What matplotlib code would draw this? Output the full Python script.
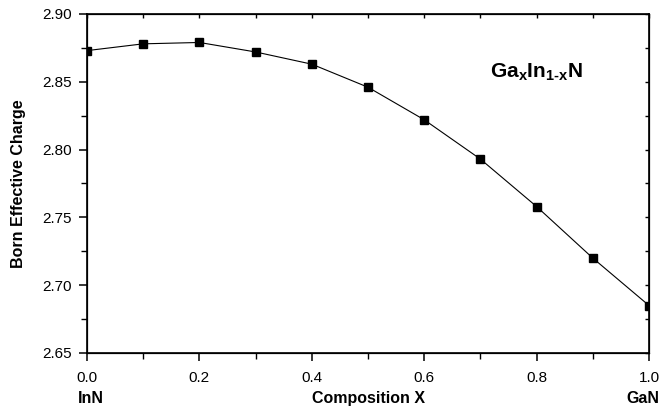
import matplotlib
matplotlib.use("Agg")
import matplotlib.pyplot as plt
from matplotlib.ticker import MultipleLocator

plt.rcParams['font.family'] = ['Liberation Sans', 'DejaVu Sans']
plt.rcParams['mathtext.fontset'] = 'custom'
plt.rcParams['mathtext.rm'] = 'Liberation Sans:bold'
plt.rcParams['mathtext.bf'] = 'Liberation Sans:bold'
plt.rcParams['mathtext.it'] = 'Liberation Sans:bold'

composition = [0.0, 0.1, 0.2, 0.3, 0.4, 0.5, 0.6, 0.7, 0.8, 0.9, 1.0]
born_charge = [2.873, 2.878, 2.879, 2.872, 2.863, 2.846, 2.822, 2.793, 2.758, 2.720, 2.685]

fig = plt.figure(figsize=(6.59, 4.12), dpi=100)
ax = fig.add_axes([87/659, 1-353/412, (649-87)/659, (353-14)/412])

ax.plot(composition, born_charge, color='black', lw=0.8, marker='s',
        markersize=5.5, markerfacecolor='black', markeredgecolor='black')

ax.set_xlim(0, 1.0)
ax.set_ylim(2.65, 2.90)
ax.xaxis.set_major_locator(MultipleLocator(0.2))
ax.xaxis.set_minor_locator(MultipleLocator(0.1))
ax.yaxis.set_major_locator(MultipleLocator(0.05))
ax.yaxis.set_minor_locator(MultipleLocator(0.025))
ax.xaxis.set_major_formatter(plt.FormatStrFormatter('%.1f'))
ax.yaxis.set_major_formatter(plt.FormatStrFormatter('%.2f'))

for s in ax.spines.values():
    s.set_linewidth(1.2)

ax.tick_params(which='major', direction='out', length=6, width=1.1, labelsize=11, pad=5)
ax.tick_params(which='minor', direction='out', length=4, width=1.0)
ax.tick_params(axis='x', which='major', pad=7)

# top and right inward ticks
axt = ax.twiny()
axt.set_xlim(ax.get_xlim())
axt.xaxis.set_major_locator(MultipleLocator(0.1))
axt.tick_params(axis='x', which='major', direction='in', length=3, width=1.0, labeltop=False)
axr = ax.twinx()
axr.set_ylim(ax.get_ylim())
axr.yaxis.set_major_locator(MultipleLocator(0.025))
axr.tick_params(axis='y', which='major', direction='in', length=3, width=1.0, labelright=False)

ax.set_xlabel('Composition X', fontsize=11.5, fontweight='bold')
ax.xaxis.set_label_coords(0.5, -0.135)
ax.xaxis.label.set_va('center')
ax.set_ylabel('Born Effective Charge', fontsize=11.5, fontweight='bold')
ax.yaxis.set_label_coords(-0.121, 0.5)
ax.yaxis.label.set_va('center')

trans = ax.get_xaxis_transform()
ax.text(0.007, -0.133, 'InN', transform=trans, ha='center', va='center',
        fontsize=11.5, fontweight='bold')
ax.text(0.989, -0.133, 'GaN', transform=trans, ha='center', va='center',
        fontsize=11.5, fontweight='bold')

ax.text(0.80, 2.857, r'$\mathbf{Ga_xIn_{1\text{-}x}N}$', ha='center', va='center', fontsize=15)

fig.savefig('out.png', dpi=100)
